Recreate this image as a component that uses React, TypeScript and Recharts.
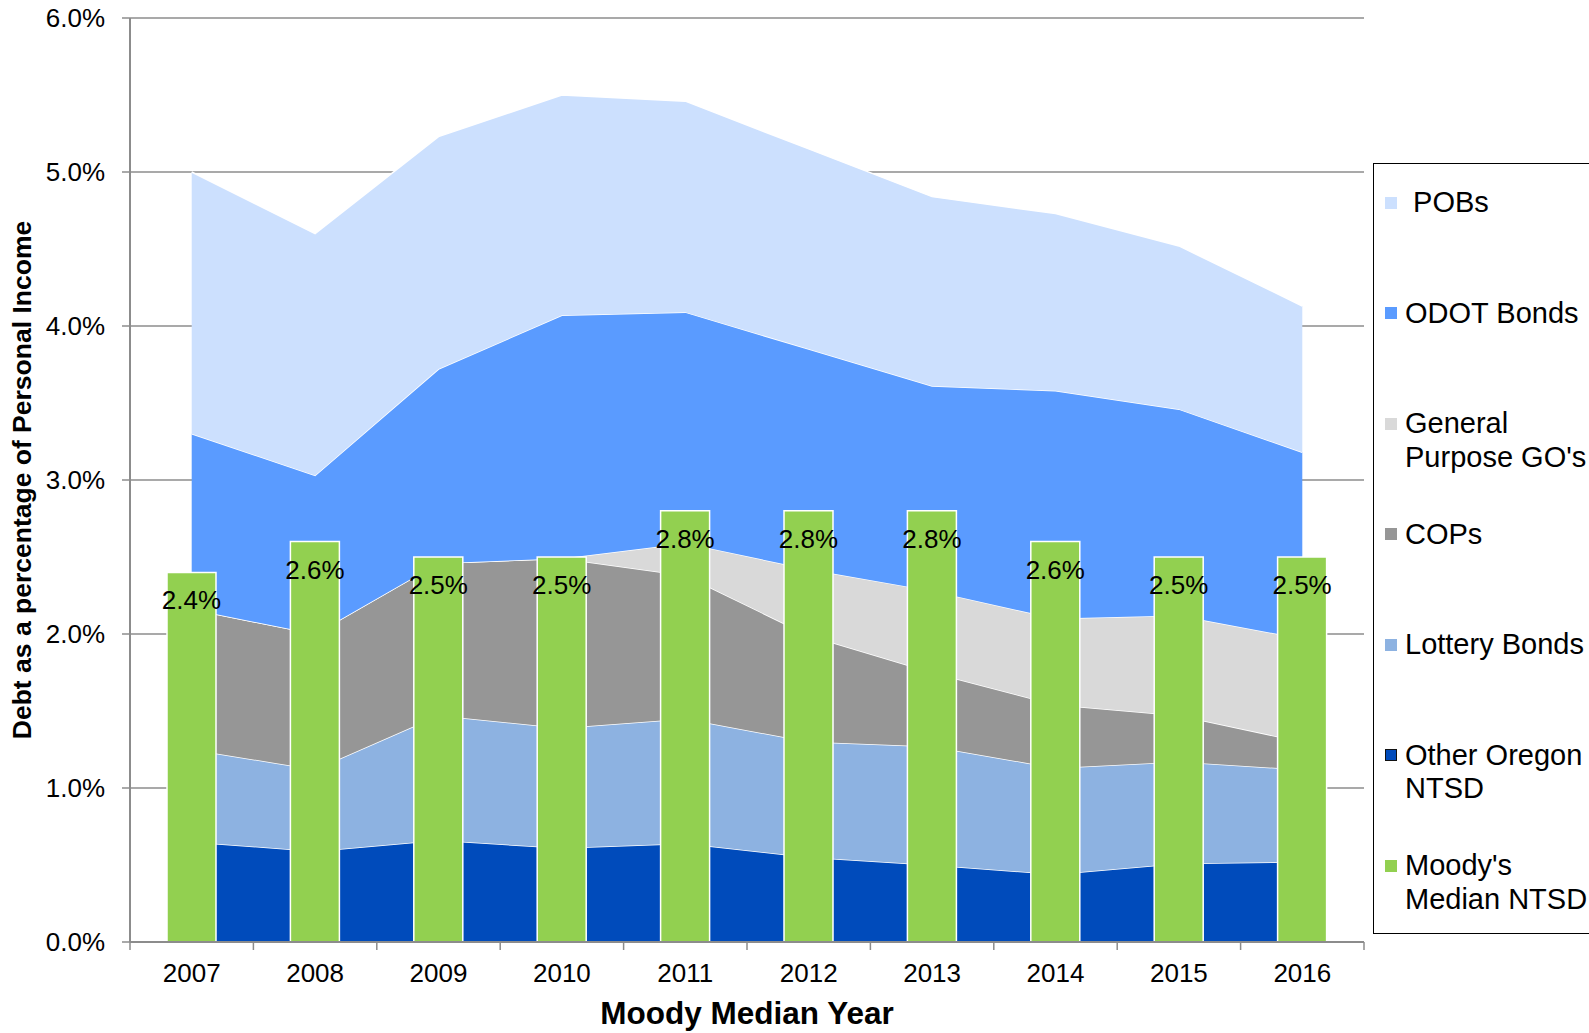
import React from 'react';
import {
  ComposedChart,
  Area,
  Bar,
  XAxis,
  YAxis,
  CartesianGrid,
  Legend,
  LabelList,
  Label,
} from 'recharts';

const years = ['2007', '2008', '2009', '2010', '2011', '2012', '2013', '2014', '2015', '2016'];
const otherOregonNtsd = [0.65, 0.59, 0.66, 0.61, 0.64, 0.55, 0.5, 0.44, 0.51, 0.52];
const lotteryBonds = [0.6, 0.53, 0.81, 0.78, 0.81, 0.75, 0.77, 0.69, 0.66, 0.6];
const cops = [0.91, 0.88, 0.99, 1.1, 0.93, 0.69, 0.48, 0.41, 0.3, 0.18];
const generalPurposeGOs = [0, 0, 0, 0, 0.21, 0.43, 0.53, 0.56, 0.65, 0.67];
const odotBonds = [1.14, 1.03, 1.26, 1.58, 1.5, 1.43, 1.33, 1.48, 1.34, 1.21];
const pobs = [1.7, 1.57, 1.51, 1.43, 1.37, 1.3, 1.23, 1.15, 1.06, 0.95];
const moodysMedian = [2.4, 2.6, 2.5, 2.5, 2.8, 2.8, 2.8, 2.6, 2.5, 2.5];
const yTicks = [0, 1, 2, 3, 4, 5, 6];

const W = 1589;
const H = 1033;
const Y_AXIS_W = 130;
const X_AXIS_H = 91;
const MARGIN_TOP = 18;
const MARGIN_RIGHT = 225;
const PLOT_W = W - Y_AXIS_W - MARGIN_RIGHT;
const PLOT_BOTTOM = H - X_AXIS_H;

const FONT = '"Liberation Sans", Arial, Helvetica, sans-serif';
const AXIS = '#8c8c8c';

const colors = {
  pobs: '#cce0fe',
  odot: '#5a9bff',
  go: '#d9d9d9',
  cops: '#969696',
  lottery: '#8db2e1',
  other: '#004bbb',
  moody: '#92d050',
};

const data = years.map((year, i) => ({
  year,
  other: otherOregonNtsd[i],
  lottery: lotteryBonds[i],
  cops: cops[i],
  go: generalPurposeGOs[i],
  odot: odotBonds[i],
  pobs: pobs[i],
  moody: moodysMedian[i],
}));

// legend, top to bottom
const legendItems = [
  { lines: [' POBs'], color: colors.pobs },
  { lines: ['ODOT Bonds'], color: colors.odot },
  { lines: ['General', "Purpose GO's"], color: colors.go },
  { lines: ['COPs'], color: colors.cops },
  { lines: ['Lottery Bonds'], color: colors.lottery },
  { lines: ['Other Oregon', 'NTSD'], color: colors.other, border: true },
  { lines: ["Moody's", 'Median NTSD'], color: colors.moody },
];

const XTick = (props: any) => {
  const { x, payload, index } = props;
  const half = PLOT_W / years.length / 2;
  return (
    <g>
      <line x1={x - half} x2={x - half} y1={PLOT_BOTTOM} y2={PLOT_BOTTOM + 8} stroke={AXIS} strokeWidth={1.5} />
      {index === years.length - 1 && (
        <line x1={x + half} x2={x + half} y1={PLOT_BOTTOM} y2={PLOT_BOTTOM + 8} stroke={AXIS} strokeWidth={1.5} />
      )}
      <text
        x={x}
        y={PLOT_BOTTOM + 31}
        textAnchor="middle"
        dominantBaseline="central"
        fontSize={26}
        fontFamily={FONT}
        fill="#000"
      >
        {payload.value}
      </text>
    </g>
  );
};

const BarValue = (props: any) => {
  const { x, y, width, value } = props;
  return (
    <text
      x={x + width / 2}
      y={y + 28}
      textAnchor="middle"
      dominantBaseline="central"
      fontSize={26}
      fontFamily={FONT}
      fill="#000"
    >
      {`${Number(value).toFixed(1)}%`}
    </text>
  );
};

const LegendBox = () => (
  <div
    style={{
      border: '1.5px solid #000',
      background: '#fff',
      boxSizing: 'border-box',
      width: '100%',
      height: '100%',
      paddingTop: 22,
      fontFamily: FONT,
      fontSize: 29,
      lineHeight: '33.5px',
      color: '#000',
    }}
  >
    {legendItems.map((item) => (
      <div key={item.lines.join(' ')} style={{ height: 110.5, position: 'relative', paddingLeft: 31 }}>
        <span
          style={{
            position: 'absolute',
            left: 11,
            top: 10.5,
            width: 12,
            height: 12,
            background: item.color,
            boxSizing: 'border-box',
            border: item.border ? '1.5px solid #111' : 'none',
          }}
        />
        {item.lines.map((ln) => (
          <div key={ln} style={{ whiteSpace: 'pre' }}>
            {ln}
          </div>
        ))}
      </div>
    ))}
  </div>
);

export default function App() {
  const areaProps = {
    type: 'linear' as const,
    stackId: 'debt',
    stroke: '#fff',
    strokeWidth: 1.5,
    fillOpacity: 1,
    dot: false,
    activeDot: false,
    isAnimationActive: false,
  };

  return (
    <div
      style={{
        position: 'absolute',
        left: 0,
        top: 0,
        width: W,
        height: H,
        overflow: 'hidden',
        background: '#fff',
      }}
    >
      <ComposedChart
        width={W}
        height={H}
        data={data}
        margin={{ top: MARGIN_TOP, right: MARGIN_RIGHT, bottom: 0, left: 0 }}
      >
        <CartesianGrid horizontal vertical={false} stroke={AXIS} strokeWidth={1.5} />
        <XAxis
          dataKey="year"
          height={X_AXIS_H}
          interval={0}
          tickLine={false}
          axisLine={{ stroke: AXIS, strokeWidth: 2 }}
          tick={<XTick />}
        >
          <Label
            content={({ viewBox }: any) => (
              <text
                x={viewBox.x + viewBox.width / 2}
                y={viewBox.y + 71}
                textAnchor="middle"
                dominantBaseline="central"
                fontSize={31.5}
                fontWeight="bold"
                fontFamily={FONT}
                fill="#000"
              >
                Moody Median Year
              </text>
            )}
          />
        </XAxis>
        <YAxis
          width={Y_AXIS_W}
          domain={[0, 6]}
          ticks={yTicks}
          interval={0}
          tickFormatter={(v) => `${Number(v).toFixed(1)}%`}
          tickSize={8}
          tickMargin={17}
          tickLine={{ stroke: AXIS, strokeWidth: 1.5 }}
          axisLine={{ stroke: AXIS, strokeWidth: 2 }}
          tick={{ fontSize: 26, fill: '#000', fontFamily: FONT }}
        >
          <Label
            content={({ viewBox }: any) => {
              const cx = viewBox.x + 22;
              const cy = viewBox.y + viewBox.height / 2;
              return (
                <text
                  x={cx}
                  y={cy}
                  transform={`rotate(-90 ${cx} ${cy})`}
                  textAnchor="middle"
                  dominantBaseline="central"
                  fontSize={26.5}
                  fontWeight="bold"
                  fontFamily={FONT}
                  fill="#000"
                >
                  Debt as a percentage of Personal Income
                </text>
              );
            }}
          />
        </YAxis>
        <Area {...areaProps} dataKey="other" name="Other Oregon NTSD" fill={colors.other} />
        <Area {...areaProps} dataKey="lottery" name="Lottery Bonds" fill={colors.lottery} />
        <Area {...areaProps} dataKey="cops" name="COPs" fill={colors.cops} />
        <Area {...areaProps} dataKey="go" name="General Purpose GO's" fill={colors.go} />
        <Area {...areaProps} dataKey="odot" name="ODOT Bonds" fill={colors.odot} />
        <Area {...areaProps} dataKey="pobs" name="POBs" fill={colors.pobs} />
        <Bar
          dataKey="moody"
          name="Moody's Median NTSD"
          fill={colors.moody}
          stroke="#fff"
          strokeWidth={1.5}
          barSize={49}
          isAnimationActive={false}
        >
          <LabelList dataKey="moody" content={<BarValue />} />
        </Bar>
        <Legend
          layout="vertical"
          align="center"
          verticalAlign="middle"
          content={<LegendBox />}
          wrapperStyle={{ left: 1373, top: 163, width: 260, height: 771, right: 'auto', bottom: 'auto' }}
        />
      </ComposedChart>
    </div>
  );
}
